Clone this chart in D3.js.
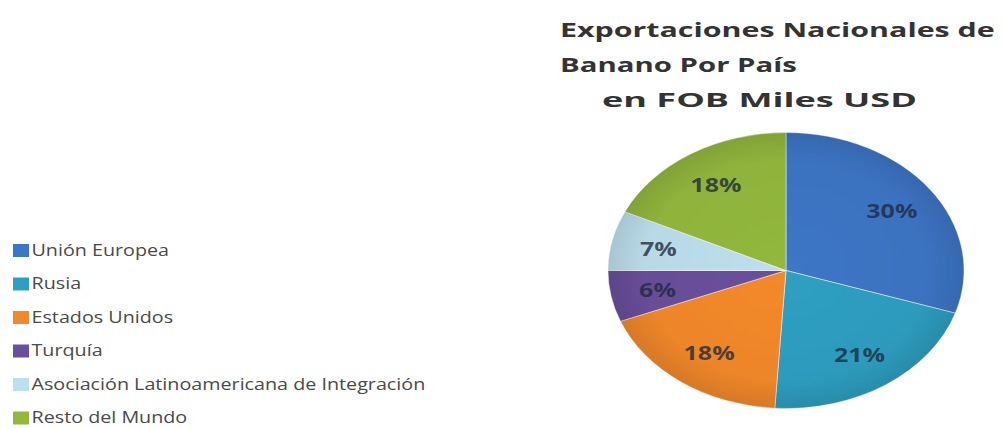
<!DOCTYPE html>
<html>
<head>
<meta charset="utf-8">
<script src="https://cdn.jsdelivr.net/npm/d3@7"></script>
<style>
  html, body { margin: 0; padding: 0; background: #ffffff; }
  svg { display: block; }
</style>
</head>
<body>
<svg id="chart" width="1003" height="428"></svg>
<script>
// Exportaciones nacionales de banano por país (participación, %)
const categories = [
  "Unión Europea",
  "Rusia",
  "Estados Unidos",
  "Turquía",
  "Asociación Latinoamericana de Integración",
  "Resto del Mundo"
];
const shares = [30, 21, 18, 6, 7, 18];
const colors = ["#3c76c6", "#2e9fc2", "#f4892b", "#6a4f9c", "#bde0ee", "#93b83d"];
const titleLines = ["Exportaciones Nacionales de", "Banano Por País", "en FOB Miles USD"];

const svg = d3.select("#chart");
const font = "'Open Sans', 'DejaVu Sans', sans-serif";

// Title: three lines of wide bold lettering, each stretched to its line width
const titleX = [560, 560, 602];
const titleY = [37, 72, 107];
const titleW = [435, 237, 315];
svg.append("g").selectAll("text")
  .data(titleLines)
  .join("text")
  .attr("font-family", font)
  .attr("font-weight", 700)
  .attr("font-size", 20)
  .attr("fill", "#333333")
  .text(d => d)
  .each(function (d, i) {
    const w = this.getComputedTextLength();
    d3.select(this).attr("transform",
      `translate(${titleX[i]},${titleY[i]}) scale(${titleW[i] / w},1)`);
  });

// Pie drawn as a wide elliptical disc
const cx = 786, cy = 270.5, rx = 178, ry = 138;
const data = categories.map((c, i) => ({ name: c, value: shares[i], color: colors[i] }));
const pie = d3.pie().value(d => d.value).sort(null);
const arcs = pie(data);
const arc = d3.arc().innerRadius(0).outerRadius(rx);
const labelArc = d3.arc().innerRadius(rx * 0.735).outerRadius(rx * 0.735);

const defs = svg.append("defs");
const shade = defs.append("radialGradient")
  .attr("id", "shade")
  .attr("cx", "50%").attr("cy", "50%").attr("r", "50%");
shade.append("stop").attr("offset", "0%").attr("stop-color", "#000").attr("stop-opacity", 0);
shade.append("stop").attr("offset", "80%").attr("stop-color", "#000").attr("stop-opacity", 0.03);
shade.append("stop").attr("offset", "100%").attr("stop-color", "#000").attr("stop-opacity", 0.12);
defs.append("filter").attr("id", "soft")
  .append("feGaussianBlur").attr("stdDeviation", 0.6);

const pieG = svg.append("g")
  .attr("transform", `translate(${cx},${cy}) scale(1,${ry / rx})`);

pieG.append("g").attr("filter", "url(#soft)")
  .selectAll("path")
  .data(arcs)
  .join("path")
  .attr("d", arc)
  .attr("fill", d => d.data.color)
  .attr("stroke", "#ffffff")
  .attr("stroke-opacity", 0.55)
  .attr("stroke-width", 1);

pieG.append("circle")
  .attr("r", rx)
  .attr("fill", "url(#shade)");

// Percentage labels
svg.append("g").selectAll("text")
  .data(arcs)
  .join("text")
  .attr("transform", d => {
    const [x, y] = labelArc.centroid(d);
    return `translate(${cx + x},${cy + y * ry / rx}) scale(1.25,1)`;
  })
  .attr("text-anchor", "middle")
  .attr("dominant-baseline", "central")
  .attr("font-family", font)
  .attr("font-weight", 700)
  .attr("font-size", 20)
  .attr("fill", "#1e2a3c")
  .attr("fill-opacity", 0.78)
  .text(d => d.data.value + "%");

// Legend
const legend = svg.append("g").attr("transform", "translate(13,250.5)");
const rowH = 33.5;
const item = legend.selectAll("g")
  .data(data)
  .join("g")
  .attr("transform", (d, i) => `translate(0,${i * rowH})`);
item.append("rect")
  .attr("x", 0).attr("y", -6.5)
  .attr("width", 16).attr("height", 13)
  .attr("fill", d => d.color);
item.append("text")
  .attr("transform", "translate(18.5,5) scale(1.16,1)")
  .attr("font-family", font)
  .attr("font-size", 17)
  .attr("fill", "#4a4a4a")
  .text(d => d.name);
</script>
</body>
</html>
